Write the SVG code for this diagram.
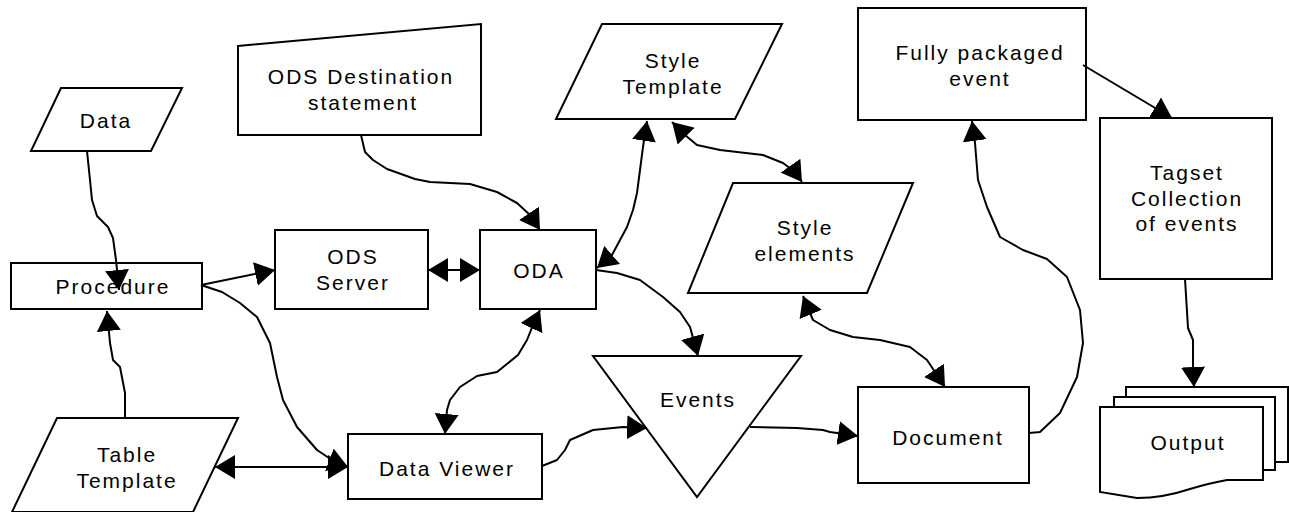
<svg xmlns="http://www.w3.org/2000/svg" width="1289" height="512" viewBox="0 0 1289 512">
<style>
.s{fill:#fff;stroke:#000;stroke-width:2}
.c{fill:none;stroke:#000;stroke-width:2;stroke-linejoin:round}
.a{marker-end:url(#ah)}
.b{marker-start:url(#ah);marker-end:url(#ah)}
text{font-family:"Liberation Sans",Arial,sans-serif;font-size:21px;letter-spacing:2px;text-anchor:middle;fill:#000}
</style>
<defs>
<marker id="ah" viewBox="0 0 20 24" markerWidth="20" markerHeight="24" refX="20" refY="12" orient="auto-start-reverse" markerUnits="userSpaceOnUse"><path d="M0,0 L20,12 L0,24 z" fill="#000"/></marker>
</defs>
<rect width="1289" height="512" fill="#fff"/>
<g id="data"><polygon class="s" points="61,88 182,88 151,151 31,151"/><text x="106" y="128">Data</text></g>
<g id="ods-destination"><polygon class="s" points="238,46 481,24 481,135 238,135"/><text x="361" y="84">ODS Destination</text><text x="363" y="110">statement</text></g>
<g id="style-template"><polygon class="s" points="602,24 782,24 735,119 556,119"/><text x="673" y="68">Style</text><text x="673" y="94">Template</text></g>
<g id="fully-packaged"><rect class="s" x="858" y="8" width="228" height="112"/><text x="980" y="60">Fully packaged</text><text x="980" y="86">event</text></g>
<g id="tagset"><rect class="s" x="1100" y="118" width="172" height="161"/><text x="1187" y="180">Tagset</text><text x="1187" y="206">Collection</text><text x="1187" y="231">of events</text></g>
<g id="style-elements"><polygon class="s" points="733,183 913,183 867,293 688,293"/><text x="805" y="235">Style</text><text x="805" y="261">elements</text></g>
<g id="procedure"><rect class="s" x="11" y="263" width="191" height="46"/><text x="113" y="294">Procedure</text></g>
<g id="ods-server"><rect class="s" x="275" y="230" width="153" height="79"/><text x="353" y="264">ODS</text><text x="353" y="290">Server</text></g>
<g id="oda"><rect class="s" x="480" y="230" width="116" height="79"/><text x="539" y="278">ODA</text></g>
<g id="table-template"><polygon class="s" points="57,418 238,418 193,512 12,512"/><text x="127" y="462">Table</text><text x="127" y="488">Template</text></g>
<g id="data-viewer"><rect class="s" x="348" y="434" width="194" height="65"/><text x="447" y="476">Data Viewer</text></g>
<g id="events"><polygon class="s" points="593,356 801,356 697,497"/><text x="698" y="407">Events</text></g>
<g id="document"><rect class="s" x="858" y="387" width="171" height="96"/><text x="948" y="445">Document</text></g>
<g id="output">
<rect class="s" x="1126" y="387" width="162" height="75"/>
<rect class="s" x="1114" y="397" width="161" height="73"/>
<path class="s" d="M1100,407 L1263,407 L1263,480 L1227,480 C1210,483 1200,486 1190,489 C1175,494 1160,498 1137,498 L1100,492 Z"/>
<text x="1188" y="450">Output</text>
</g>
<g id="connectors">
<path class="c a" d="M87,151 L90,180 L92,200 L97,216 L108,227 L113,238 L116,260 L119,290"/>
<path class="c a" d="M201,285 L275,270"/>
<path class="c a" d="M201,285 L207,287 L222,292 L240,303 L257,317 L270,343 L277,377 L283,400 L297,427 L317,450 L335,462 L348,467"/>
<path class="c a" d="M125,418 L125,393 L120,367 L113,360 L110,343 L107,311"/>
<path class="c b" d="M215,467 L348,467"/>
<path class="c b" d="M428,270 L480,270"/>
<path class="c a" d="M361,135 L365,152 L373,160 L387,169 L415,179 L430,182 L470,184 L497,192 L517,203 L530,215 L540,230"/>
<path class="c b" d="M597,268 L612,255 L620,240 L627,227 L633,210 L637,193 L640,170 L643,147 L647,121"/>
<path class="c b" d="M672,122 L685,135 L697,145 L720,150 L763,155 L783,163 L795,172 L802,182"/>
<path class="c a" d="M596,270 L617,273 L640,280 L663,297 L680,312 L690,327 L698,356"/>
<path class="c b" d="M540,310 L533,325 L527,340 L518,355 L497,372 L477,376 L460,387 L450,400 L447,410 L445,434"/>
<path class="c a" d="M542,466 L557,460 L565,450 L570,440 L593,430 L623,427 L647,428"/>
<path class="c a" d="M750,427 L797,428 L823,430 L830,432 L858,436"/>
<path class="c b" d="M803,296 L813,320 L830,330 L853,337 L880,340 L910,347 L927,360 L945,387"/>
<path class="c a" d="M1029,433 L1040,432 L1060,413 L1077,377 L1083,343 L1080,310 L1067,277 L1047,259 L1023,250 L1000,237 L987,207 L978,180 L975,143 L972,121"/>
<path class="c a" d="M1083,65 L1172,118"/>
<path class="c a" d="M1185,279 L1188,328 L1193,340 L1193,367 L1194,387"/>
</g>
</svg>
